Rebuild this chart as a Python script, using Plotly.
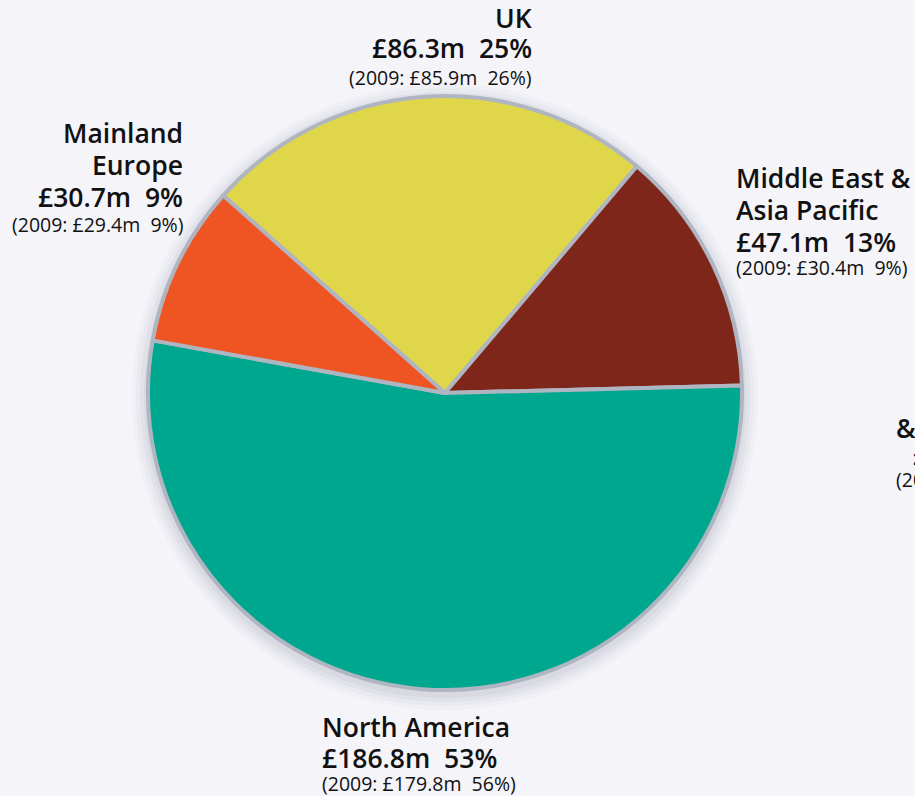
import plotly.graph_objects as go

regions = ["UK", "Middle East & Asia Pacific", "North America", "Mainland Europe"]
values_2010 = [86.3, 47.1, 186.8, 30.7]
pct_2010 = [25, 13, 53, 9]
values_2009 = [85.9, 30.4, 179.8, 29.4]
pct_2009 = [26, 9, 56, 9]
colors = ["#dfd64a", "#7e2619", "#00a78f", "#ef5523"]

# label title lines for each region
title_lines = [["UK"], ["Middle East &", "Asia Pacific"], ["North America"], ["Mainland", "Europe"]]

W, H = 915, 796
cx, cy, r = 445, 393, 297

fig = go.Figure()
fig.add_trace(go.Pie(
    labels=regions, values=values_2010, sort=False, direction="clockwise",
    rotation=-48.3, textinfo="none", hoverinfo="label+value+percent",
    marker=dict(colors=colors, line=dict(color="#b0b5c2", width=4)),
    domain=dict(x=[(cx - r) / W, (cx + r) / W], y=[(H - cy - r) / H, (H - cy + r) / H]),
    showlegend=False,
))

# soft shadow around the pie
shapes = []
for dr, op in [(16, 0.035), (12, 0.045), (8, 0.06), (4, 0.08)]:
    rr = r + dr
    shapes.append(dict(type="circle", xref="paper", yref="paper", layer="below",
                       x0=(cx - rr) / W, x1=(cx + rr) / W,
                       y0=1 - (cy + 4 + rr) / H, y1=1 - (cy + 4 - rr) / H,
                       fillcolor=f"rgba(110,115,135,{op})", line=dict(width=0)))

# label layout: (x, centre y of first line, xanchor, line step, gap to 2009 line)
anchors = {
    "UK": (534, 18, "right", 30, 29),
    "Middle East & Asia Pacific": (734, 178, "left", 32, 25),
    "North America": (320, 727, "left", 31, 25),
    "Mainland Europe": (185, 133, "right", 32, 28),
}
FONT = "Open Sans"
BIG, SMALL = 26.5, 19.5
annotations = []
for i, reg in enumerate(regions):
    x, y0, xa, step, gap = anchors[reg]
    lines = title_lines[i] + [f"£{values_2010[i]}m  {pct_2010[i]}%"]
    y = y0
    for k, ln in enumerate(lines):
        annotations.append(dict(x=x / W, y=1 - y / H, xref="paper", yref="paper", xanchor=xa, yanchor="middle",
                                text=ln.replace('&', '&amp;').replace("  ", " &nbsp;"), showarrow=False,
                                font=dict(family=FONT, size=BIG, color="#111111", weight=600)))
        if k < len(lines) - 1:
            y += step
    y += gap
    annotations.append(dict(x=x / W, y=1 - y / H, xref="paper", yref="paper", xanchor=xa, yanchor="middle",
                            text=f"(2009: £{values_2009[i]}m &nbsp;{pct_2009[i]}%)", showarrow=False,
                            font=dict(family=FONT, size=SMALL, color="#111111")))

# partially visible label at right edge (clipped in the source)
for t, x, y, sz, wt in [("&amp;", 894, 428, BIG, 600), ("£", 911, 455, BIG, 600), ("(20", 894, 480, SMALL, 400)]:
    annotations.append(dict(x=x / W, y=1 - y / H, xref="paper", yref="paper", xanchor="left", yanchor="middle",
                            text=t, showarrow=False, font=dict(family=FONT, size=sz, color="#111111", weight=wt)))

fig.update_layout(
    width=W, height=H, margin=dict(l=0, r=0, t=0, b=0),
    paper_bgcolor="#f4f4f9", plot_bgcolor="#f4f4f9",
    annotations=annotations, shapes=shapes,
)
fig.write_html("out.html")
